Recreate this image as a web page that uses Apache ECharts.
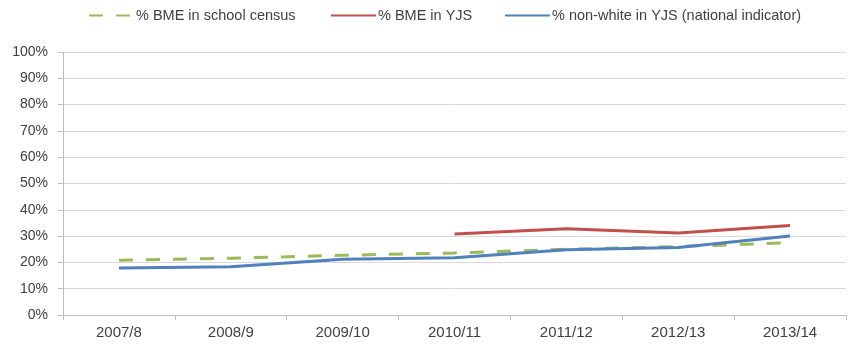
<!DOCTYPE html>
<html>
<head>
<meta charset="utf-8">
<script src="https://cdn.jsdelivr.net/npm/echarts@6/dist/echarts.min.js"></script>
<style>
  html, body { margin: 0; padding: 0; background: #fff; }
  #chart { width: 850px; height: 346px; }
</style>
</head>
<body>
<div id="chart"></div>
<script>
// School years on the x axis
const years = ['2007/8', '2008/9', '2009/10', '2010/11', '2011/12', '2012/13', '2013/14'];

// Percentages per year
const bmeSchoolCensus = [20.8, 21.6, 22.7, 23.6, 25.0, 26.0, 27.5];
const bmeInYJS = [null, null, null, 30.8, 32.8, 31.2, 34.0];
const nonWhiteInYJS = [17.9, 18.3, 21.2, 21.8, 24.8, 25.7, 30.0];

const seriesNames = [
  '% BME in school census',
  '% BME in YJS',
  '% non-white in YJS (national indicator)'
];

const font = '"Liberation Sans", Arial, sans-serif';

// One legend block per series so each key sits at its own spot
const legendLefts = [83, 325, 499];
const legends = seriesNames.map((name, i) => ({
  top: 3,
  left: legendLefts[i],
  itemWidth: 45,
  itemHeight: 14,
  itemGap: 4,
  itemStyle: { opacity: 0 },
  textStyle: { fontFamily: font, fontSize: 14.5, color: '#404040', padding: [0, 0, 0, -3] },
  data: [name]
}));

const chart = echarts.init(document.getElementById('chart'), null, { renderer: 'canvas' });

chart.setOption({
  animation: false,
  backgroundColor: '#ffffff',
  textStyle: { fontFamily: font },
  legend: legends,
  grid: { left: 63, right: 4, top: 52, bottom: 31, containLabel: false },
  xAxis: {
    type: 'category',
    data: years,
    boundaryGap: true,
    axisLine: { show: true, lineStyle: { color: '#bfbfbf', width: 1 } },
    axisTick: { show: true, length: 5, alignWithLabel: false, lineStyle: { color: '#bfbfbf' } },
    axisLabel: { fontFamily: font, fontSize: 15, color: '#404040', margin: 10 },
    splitLine: { show: false }
  },
  yAxis: {
    type: 'value',
    min: 0,
    max: 100,
    interval: 10,
    axisLine: { show: true, lineStyle: { color: '#bfbfbf', width: 1 } },
    axisTick: { show: true, length: 5, lineStyle: { color: '#bfbfbf' } },
    axisLabel: { fontFamily: font, fontSize: 14, color: '#404040', margin: 15, formatter: '{value}%' },
    splitLine: { show: true, lineStyle: { color: '#d9d9d9', width: 1 } }
  },
  series: [
    {
      name: seriesNames[0],
      type: 'line',
      data: bmeSchoolCensus,
      symbol: 'none',
      color: '#9bbb59',
      lineStyle: { color: '#9bbb59', width: 3, type: [14, 13] },
      z: 2
    },
    {
      name: seriesNames[1],
      type: 'line',
      data: bmeInYJS,
      symbol: 'none',
      color: '#c0504d',
      lineStyle: { color: '#c0504d', width: 3 },
      z: 3
    },
    {
      name: seriesNames[2],
      type: 'line',
      data: nonWhiteInYJS,
      symbol: 'none',
      color: '#4f81bd',
      lineStyle: { color: '#4f81bd', width: 3 },
      z: 4
    }
  ]
});
</script>
</body>
</html>
